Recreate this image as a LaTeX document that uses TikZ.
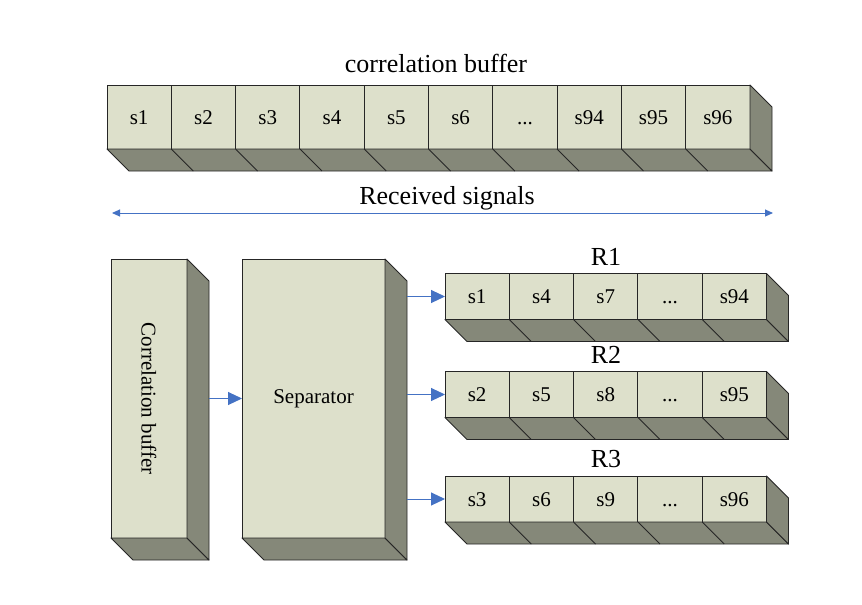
\documentclass[tikz,border=0pt]{standalone}
\usepackage{fontspec}
\setmainfont{Liberation Serif}
\usetikzlibrary{arrows.meta,calc}
\definecolor{facelight}{HTML}{DDE0CB}
\definecolor{facedark}{HTML}{858879}
\definecolor{linkblue}{HTML}{4472C4}
\newcommand\depth{22}
\newcommand\gap{...}
\tikzset{
  cell/.style={draw=black!85, fill=facelight, line width=0.9pt, minimum width=64.3pt,
    minimum height=46pt, inner sep=0pt, outer sep=0pt, text height=14pt, text depth=0pt,
    font=\fontsize{21}{25}\selectfont},
  slab/.style={cell, minimum height=279pt, text height=, text depth=},
  side/.style={draw=black!85, fill=facedark, line width=0.9pt, line join=round},
  edge/.style={draw=black!85, line width=0.9pt},
  caption/.style={font=\fontsize{26}{30}\selectfont, inner sep=0pt},
  flow/.style={draw=linkblue, line width=1pt, -{Triangle[length=14pt,width=13pt]}},
  span/.style={draw=linkblue, line width=1pt,
    {Triangle[length=8pt,width=7pt]}-{Triangle[length=8pt,width=7pt]}}
}
% bottom and right faces behind a row of front faces
\newcommand\extrude[2]{%
  \filldraw[side] (#1.south west) -- (#2.south east) -- ++(\depth,\depth)
    -- ($(#1.south west)+(\depth,\depth)$) -- cycle;
  \filldraw[side] (#2.north east) -- ++(\depth,\depth)
    -- ($(#2.south east)+(\depth,\depth)$) -- (#2.south east) -- cycle;
}

\begin{document}
\begin{tikzpicture}[x=1pt, y=-1pt]
  \fill[white] (0,0) rectangle (862,605);
  \useasboundingbox (0,0) rectangle (862,605);

  % long buffer on top
  \node[caption] (title) at (436,63) {correlation buffer};
  \foreach \t [count=\i] in {s1,s2,s3,s4,s5,s6,\gap,s94,s95,s96}
    \node[cell, minimum height=64pt] (top\i) at ({107+(\i-0.5)*64.3},117) {\t};
  \extrude{top1}{top10}
  \foreach \i in {1,...,9}
    \draw[edge] (top\i.south east) -- ++(\depth,\depth);

  \node[caption] (recv) at (447,198) {Received signals};
  \coordinate (spanL) at (112,213);
  \coordinate (spanR) at (773,213);
  \draw[span] (spanL) -- (spanR);

  % buffer and separator
  \node[slab, minimum width=76pt] (buf) at (149,398.5) {\rotatebox{-90}{Correlation buffer}};
  \node[slab, minimum width=143pt] (sep) at (313.5,398.5) {Separator};
  \extrude{buf}{buf}
  \extrude{sep}{sep}
  \coordinate (bufback) at ([xshift=\depth pt]buf.east);
  \coordinate (sepback) at ([xshift=\depth pt]sep.east);
  \draw[flow] (bufback) -- (sep.west);

  % the three sub-buffers
  \foreach \r/\y/\cells in {1/296.5/{s1,s4,s7,\gap,s94},
                            2/394.5/{s2,s5,s8,\gap,s95},
                            3/499/{s3,s6,s9,\gap,s96}} {
    \node[caption] (lab\r) at (606,{\y-40}) {R\r};
    \foreach \t [count=\i] in \cells
      \node[cell] (r\r c\i) at ({445+(\i-0.5)*64.3},\y) {\t};
    \extrude{r\r c1}{r\r c5}
    \foreach \i in {1,...,4}
      \draw[edge] (r\r c\i.south east) -- ++(\depth,\depth);
    \draw[flow] (sepback |- r\r c1.west) -- (r\r c1.west);
  }
\end{tikzpicture}
\end{document}
